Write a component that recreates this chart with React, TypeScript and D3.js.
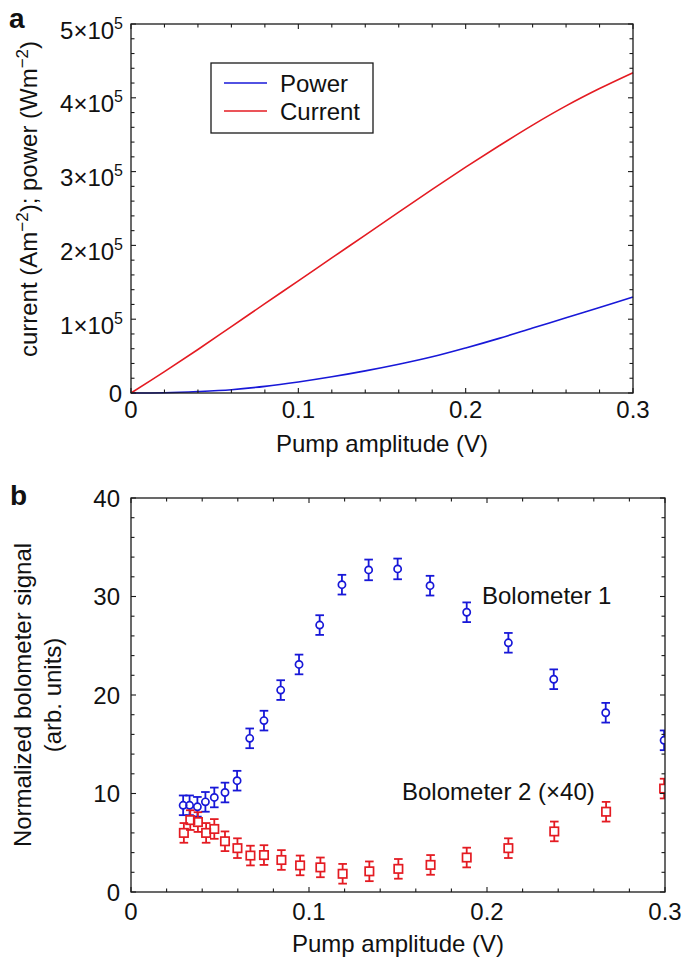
import React from 'react';
import * as d3 from 'd3';

// ---------- Panel a data ----------
const pumpGrid = [0, 0.02, 0.04, 0.06, 0.08, 0.1, 0.12, 0.14, 0.16, 0.18, 0.2, 0.22, 0.24, 0.26, 0.28, 0.3];
const currentVals = [0, 0.29, 0.59, 0.90, 1.21, 1.52, 1.83, 2.14, 2.45, 2.76, 3.06, 3.35, 3.63, 3.89, 4.125, 4.34].map(v => v * 1e5);
const powerVals = [0, 0.004, 0.02, 0.045, 0.09, 0.15, 0.22, 0.30, 0.39, 0.49, 0.61, 0.74, 0.88, 1.02, 1.16, 1.30].map(v => v * 1e5);

const aXTicks = [0, 0.1, 0.2, 0.3];
const aXTickLabels = ['0', '0.1', '0.2', '0.3'];
const aYTicks = [0, 1e5, 2e5, 3e5, 4e5, 5e5];
const aYTickMant = ['0', '1', '2', '3', '4', '5'];
const legendLabels = ['Power', 'Current'];

// ---------- Panel b data ----------
const bolo1X = [0.0293, 0.0329, 0.0373, 0.0418, 0.0468, 0.0528, 0.0596, 0.0667, 0.0747, 0.0841, 0.0944, 0.106, 0.1185, 0.1335, 0.1498, 0.168, 0.1886, 0.212, 0.2375, 0.2667, 0.2995];
const bolo1Y = [8.8, 8.8, 8.65, 9.15, 9.6, 10.1, 11.3, 15.6, 17.4, 20.5, 23.1, 27.1, 31.2, 32.7, 32.8, 31.1, 28.4, 25.3, 21.6, 18.2, 15.4];
const bolo1Err = [1.0, 1.0, 1.0, 1.0, 1.0, 1.0, 1.0, 1.0, 1.0, 1.0, 1.0, 1.0, 1.0, 1.05, 1.05, 1.0, 1.0, 1.0, 1.0, 1.0, 1.0];

const bolo2X = [0.0297, 0.0333, 0.0376, 0.0422, 0.0468, 0.0528, 0.0598, 0.0671, 0.0747, 0.0845, 0.095, 0.1064, 0.1189, 0.1339, 0.1502, 0.1683, 0.1886, 0.212, 0.2378, 0.2669, 0.2995];
const bolo2Y = [6.0, 7.3, 7.1, 6.0, 6.4, 5.15, 4.45, 3.7, 3.75, 3.25, 2.7, 2.5, 1.85, 2.1, 2.35, 2.75, 3.5, 4.45, 6.15, 8.15, 10.5];
const bolo2Err = [1.0, 1.0, 1.0, 1.0, 1.0, 1.0, 1.0, 1.0, 1.0, 1.0, 1.0, 1.0, 1.0, 1.0, 1.0, 1.0, 1.0, 1.0, 1.0, 1.0, 1.0];

const bXTicks = [0, 0.1, 0.2, 0.3];
const bXTickLabels = ['0', '0.1', '0.2', '0.3'];
const bYTicks = [0, 10, 20, 30, 40];
const bYTickLabels = ['0', '10', '20', '30', '40'];

const FONT = '"Liberation Sans", Arial, Helvetica, sans-serif';
const BLUE = '#1818d8';
const RED = '#e41b22';
const AX = '#1a1a1a';

function Frame({ x0, x1, y0, y1, xMaj, xMin, yMaj, yMin, xs, ys }: any) {
  const MJ = 5, MN = 3.5;
  const els: any[] = [];
  xMin.forEach((v: number, i: number) => {
    const L = xMaj.some((m: number) => Math.abs(m - v) < 1e-9) ? MJ : MN;
    const x = xs(v);
    els.push(<line key={'xb' + i} x1={x} x2={x} y1={y1} y2={y1 - L} />);
    els.push(<line key={'xt' + i} x1={x} x2={x} y1={y0} y2={y0 + L} />);
  });
  yMin.forEach((v: number, i: number) => {
    const L = yMaj.some((m: number) => Math.abs(m - v) < 1e-6 * Math.max(1, Math.abs(m))) ? MJ : MN;
    const y = ys(v);
    els.push(<line key={'yl' + i} x1={x0} x2={x0 + L} y1={y} y2={y} />);
    els.push(<line key={'yr' + i} x1={x1} x2={x1 - L} y1={y} y2={y} />);
  });
  return (
    <g stroke={AX} strokeWidth={1.1} fill="none">
      {els}
      <rect x={x0} y={y0} width={x1 - x0} height={y1 - y0} strokeWidth={1.3} />
    </g>
  );
}

export default function App() {
  // Panel a
  const ax0 = 131, ax1 = 633, ay0 = 24, ay1 = 393;
  const xa = d3.scaleLinear().domain([0, 0.3]).range([ax0, ax1]);
  const ya = d3.scaleLinear().domain([0, 5e5]).range([ay1, ay0]);
  const lineA = d3.line<number>().x((_, i) => xa(pumpGrid[i])).y(d => ya(d)).curve(d3.curveCatmullRom.alpha(0.5));
  const aXMin = d3.range(0, 0.3 + 1e-9, 0.02);
  const aYMin = d3.range(0, 5e5 + 1, 2e4);

  // Panel b
  const bx0 = 131, bx1 = 665, by0 = 498, by1 = 892;
  const xb = d3.scaleLinear().domain([0, 0.3]).range([bx0, bx1]);
  const yb = d3.scaleLinear().domain([0, 40]).range([by1, by0]);
  const bXMin = d3.range(0, 0.3 + 1e-9, 0.02);
  const bYMin = d3.range(0, 40 + 1e-9, 2);

  const capW = 4.3;
  const sq = 8.4;

  return (
    <svg width={685} height={958} style={{ position: 'absolute', left: 0, top: 0, background: '#fff' }} fontFamily={FONT}>
      <rect x={0} y={0} width={685} height={958} fill="#fff" />
      <defs>
        <clipPath id="clipB">
          <rect x={bx0} y={by0} width={bx1 - bx0} height={by1 - by0} />
        </clipPath>
      </defs>

      {/* ---------- Panel a ---------- */}
      <text x={9} y={28} fontSize={28} fontWeight="bold" fill="#111">a</text>
      <path d={lineA(powerVals) || ''} fill="none" stroke={BLUE} strokeWidth={1.6} />
      <path d={lineA(currentVals) || ''} fill="none" stroke={RED} strokeWidth={1.6} />
      <Frame x0={ax0} x1={ax1} y0={ay0} y1={ay1} xMaj={aXTicks} xMin={aXMin} yMaj={aYTicks} yMin={aYMin} xs={xa} ys={ya} />
      {aXTicks.map((t, i) => (
        <text key={'axl' + i} x={xa(t)} y={418} fontSize={24} textAnchor="middle" fill="#111">{aXTickLabels[i]}</text>
      ))}
      {aYTicks.map((t, i) => (
        i === 0 ? (
          <text key={'ayl' + i} x={122} y={ya(t) + 8.5} fontSize={24} textAnchor="end" fill="#111">{aYTickMant[i]}</text>
        ) : (
          <text key={'ayl' + i} x={123} y={ya(t) + 14.5} fontSize={24} textAnchor="end" fill="#111">
            {aYTickMant[i] + '×10'}
            <tspan fontSize={16} dy={-10}>5</tspan>
          </text>
        )
      ))}
      <text x={382} y={452} fontSize={24} textAnchor="middle" fill="#111">Pump amplitude (V)</text>
      <text transform="translate(37,199) rotate(-90)" fontSize={24} textAnchor="middle" fill="#111">
        current (Am<tspan fontSize={17} dy={-9}>−2</tspan><tspan dy={9}>); power (Wm</tspan><tspan fontSize={17} dy={-9}>−2</tspan><tspan dy={9}>)</tspan>
      </text>
      {/* legend */}
      <rect x={211} y={63} width={162} height={70} fill="#fff" stroke={AX} strokeWidth={1.3} />
      {legendLabels.map((lab, i) => (
        <g key={'lg' + i}>
          <line x1={224} x2={267} y1={83 + i * 28} y2={83 + i * 28} stroke={i === 0 ? BLUE : RED} strokeWidth={1.6} />
          <text x={280} y={91.5 + i * 28} fontSize={24} fill="#111">{lab}</text>
        </g>
      ))}

      {/* ---------- Panel b ---------- */}
      <text x={10} y={505} fontSize={28} fontWeight="bold" fill="#111">b</text>
      <g clipPath="url(#clipB)">
        {bolo1X.map((x, i) => {
          const cx = xb(x), cy = yb(bolo1Y[i]);
          const t = yb(bolo1Y[i] + bolo1Err[i]), b = yb(bolo1Y[i] - bolo1Err[i]);
          return (
            <g key={'b1' + i} stroke={BLUE} strokeWidth={1.8} fill="none">
              <line x1={cx} x2={cx} y1={t} y2={cy - 3.6} />
              <line x1={cx} x2={cx} y1={cy + 3.6} y2={b} />
              <line x1={cx - capW} x2={cx + capW} y1={t} y2={t} />
              <line x1={cx - capW} x2={cx + capW} y1={b} y2={b} />
              <circle cx={cx} cy={cy} r={3.6} strokeWidth={1.7} />
            </g>
          );
        })}
        {bolo2X.map((x, i) => {
          const cx = xb(x), cy = yb(bolo2Y[i]);
          const t = yb(bolo2Y[i] + bolo2Err[i]), b = yb(bolo2Y[i] - bolo2Err[i]);
          return (
            <g key={'b2' + i} stroke={RED} strokeWidth={1.8} fill="none">
              <line x1={cx} x2={cx} y1={t} y2={cy - sq / 2} />
              <line x1={cx} x2={cx} y1={cy + sq / 2} y2={b} />
              <line x1={cx - capW} x2={cx + capW} y1={t} y2={t} />
              <line x1={cx - capW} x2={cx + capW} y1={b} y2={b} />
              <rect x={cx - sq / 2} y={cy - sq / 2} width={sq} height={sq} strokeWidth={1.7} />
            </g>
          );
        })}
      </g>
      <Frame x0={bx0} x1={bx1} y0={by0} y1={by1} xMaj={bXTicks} xMin={bXMin} yMaj={bYTicks} yMin={bYMin} xs={xb} ys={yb} />
      {bXTicks.map((t, i) => (
        <text key={'bxl' + i} x={xb(t)} y={920} fontSize={24} textAnchor="middle" fill="#111">{bXTickLabels[i]}</text>
      ))}
      {bYTicks.map((t, i) => (
        <text key={'byl' + i} x={120} y={yb(t) + 8.5} fontSize={24} textAnchor="end" fill="#111">{bYTickLabels[i]}</text>
      ))}
      <text x={398} y={952} fontSize={24} textAnchor="middle" fill="#111">Pump amplitude (V)</text>
      <text transform="translate(31,695) rotate(-90)" fontSize={24} textAnchor="middle" fill="#111">Normalized bolometer signal</text>
      <text transform="translate(61,695) rotate(-90)" fontSize={24} textAnchor="middle" fill="#111">(arb. units)</text>
      <text x={482} y={604} fontSize={24} fill="#111">Bolometer 1</text>
      <text x={402} y={800} fontSize={24} fill="#111">Bolometer 2 (×40)</text>
    </svg>
  );
}
